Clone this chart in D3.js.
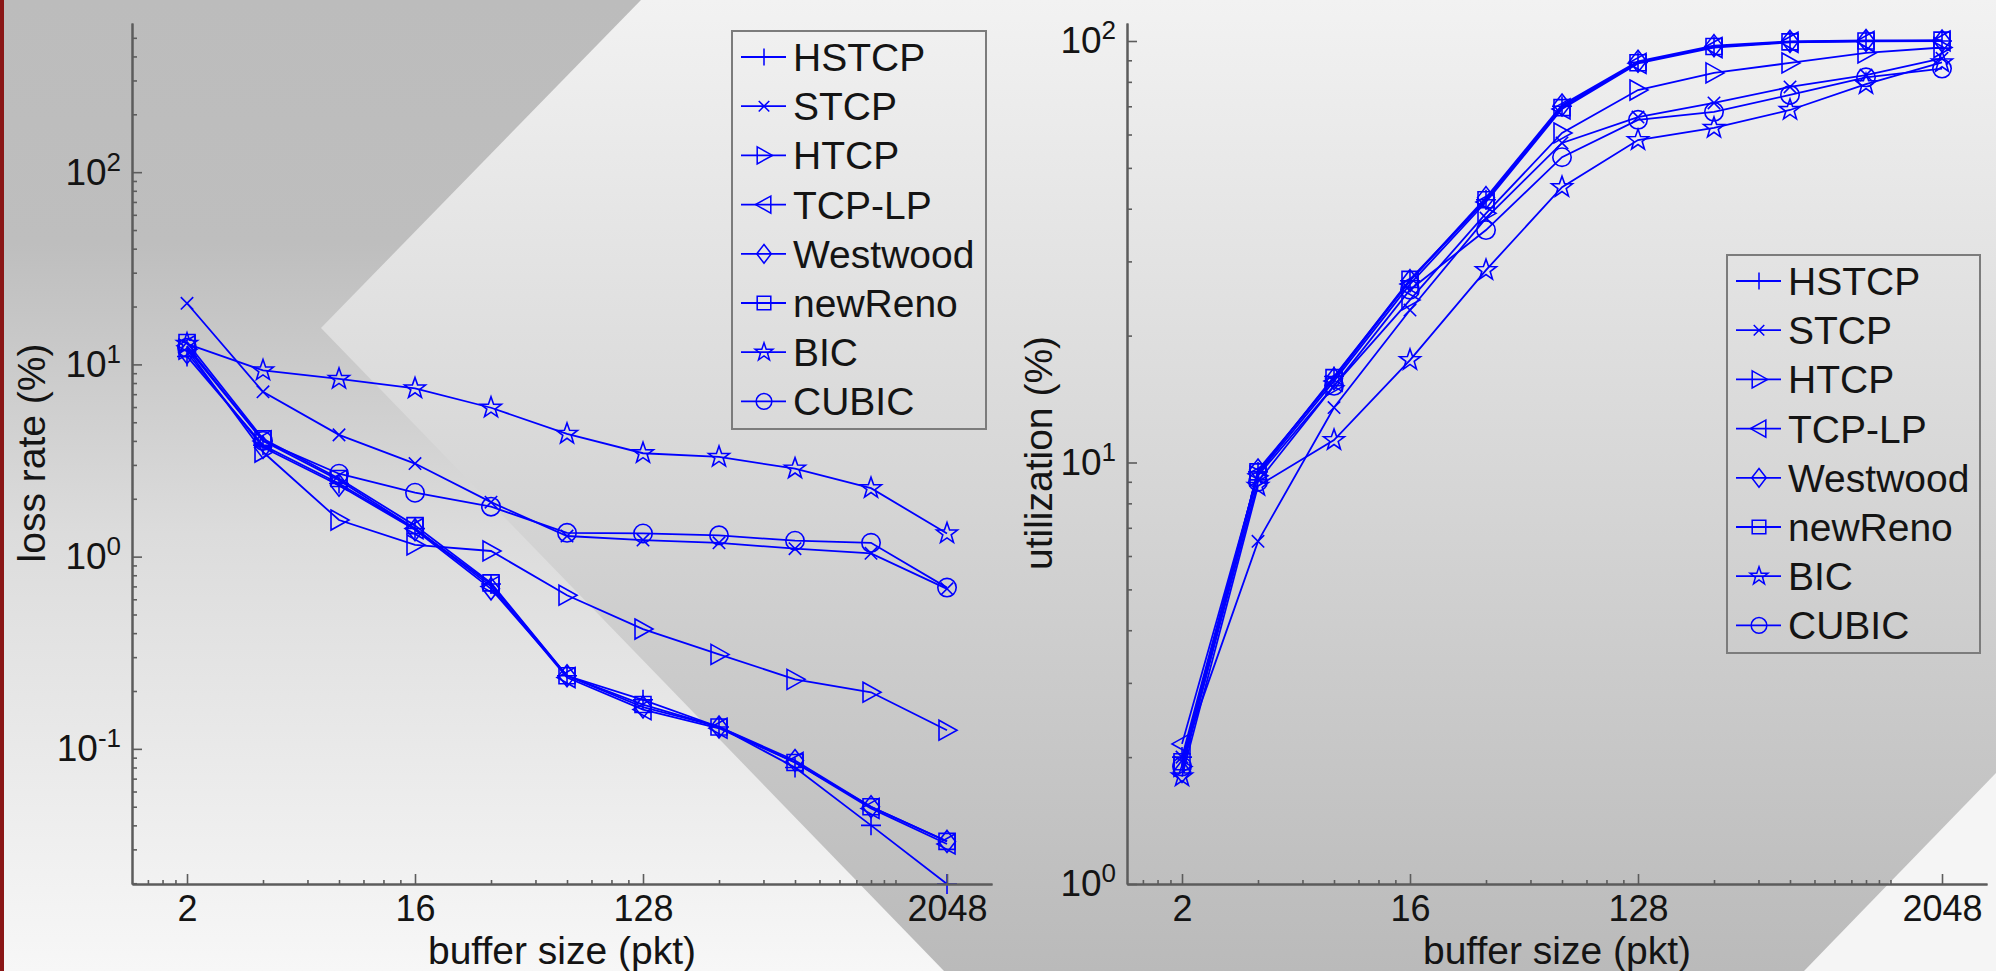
<!DOCTYPE html>
<html>
<head>
<meta charset="utf-8">
<script src="https://cdn.jsdelivr.net/npm/d3@7"></script>
<style>
  body { margin: 0; overflow: hidden; background: #ddd; }
  svg { display: block; }
  text { font-family: "Liberation Sans", Arial, sans-serif; fill: #141414; }
</style>
</head>
<body>
<svg id="chart" width="1996" height="971"></svg>
<script>
// buffer sizes (pkt) on the x axis
const bufferSizes = [2, 4, 8, 16, 32, 64, 128, 256, 512, 1024, 2048];
const protocols = ["HSTCP", "STCP", "HTCP", "TCP-LP", "Westwood", "newReno", "BIC", "CUBIC"];
const markerKinds = ["plus", "x", "triRight", "triLeft", "diamond", "square", "star", "circle"];

// loss rate (%), left panel
const lossHSTCP    = [11.0, 3.8, 2.4, 1.40, 0.72, 0.240, 0.180, 0.130, 0.080, 0.040, 0.0198];
const lossSTCP     = [20.8, 7.2, 4.3, 3.05, 1.92, 1.28, 1.22, 1.18, 1.10, 1.04, 0.68];
const lossHTCP     = [12.0, 3.5, 1.55, 1.15, 1.07, 0.63, 0.42, 0.31, 0.23, 0.197, 0.125];
const lossTCPLP    = [12.5, 4.0, 2.5, 1.40, 0.70, 0.235, 0.160, 0.128, 0.085, 0.049, 0.032];
const lossWestwood = [11.5, 3.7, 2.35, 1.38, 0.68, 0.240, 0.165, 0.130, 0.087, 0.050, 0.033];
const lossNewReno  = [13.0, 4.1, 2.55, 1.45, 0.73, 0.240, 0.170, 0.130, 0.085, 0.050, 0.033];
const lossBIC      = [12.8, 9.3, 8.4, 7.5, 5.95, 4.35, 3.45, 3.30, 2.87, 2.27, 1.32];
const lossCUBIC    = [12.2, 4.0, 2.7, 2.15, 1.82, 1.33, 1.32, 1.29, 1.21, 1.18, 0.69];

// utilization (%), right panel
const utilHSTCP    = [2.0, 9.5, 16.0, 27.0, 42.0, 70.0, 89.0, 97.0, 99.5, 100, 100];
const utilSTCP     = [2.0, 6.5, 13.5, 23.0, 38.0, 57.3, 66.0, 71.3, 77.8, 83.0, 91.0];
const utilHTCP     = [1.9, 9.3, 15.2, 24.3, 39.0, 60.5, 76.5, 84.0, 88.7, 93.7, 96.5];
const utilTCPLP    = [2.15, 9.4, 15.6, 26.5, 41.5, 69.0, 88.5, 96.5, 99.3, 99.8, 100];
const utilWestwood = [1.85, 9.6, 15.8, 27.0, 42.5, 70.5, 89.5, 97.5, 99.8, 100.3, 100];
const utilNewReno  = [1.95, 9.5, 15.9, 27.2, 42.0, 69.5, 88.8, 97.0, 99.5, 100, 100.5];
const utilBIC      = [1.8, 8.8, 11.3, 17.5, 28.6, 45.0, 58.2, 62.2, 68.6, 79.0, 89.0];
const utilCUBIC    = [1.9, 9.0, 15.2, 25.7, 35.6, 53.0, 65.0, 67.9, 74.5, 82.0, 86.0];

// ticks
const xMajorTicks = [2, 16, 128, 2048];
const xMinorTicks = [1.4, 1.6, 1.8, 4, 6, 8, 10, 12, 14, 32, 48, 64, 80, 96, 112,
                     256, 384, 512, 640, 768, 896, 1024, 1152, 1280];
const lossMajorTicks = [0.1, 1, 10, 100];
const utilMajorTicks = [1, 10, 100];

const W = 1996, H = 971;
const blue = "#0000ff";
const svg = d3.select("#chart");
const defs = svg.append("defs");

function gradient(id, stops) {
    const g = defs.append("linearGradient").attr("id", id)
        .attr("gradientUnits", "userSpaceOnUse")
        .attr("x1", 0).attr("y1", 0).attr("x2", 0).attr("y2", H);
    stops.forEach(s => g.append("stop").attr("offset", s[0]).attr("stop-color", s[1]));
}
gradient("outerGrad", [[0, "#bcbcbc"], [0.25, "#bebebe"], [0.55, "#dcdcdc"], [1, "#f7f7f7"]]);
gradient("chevGrad", [[0, "#f2f2f2"], [1, "#bababa"]]);

// slide background
const bg = svg.append("g");
bg.append("rect").attr("width", W).attr("height", H).attr("fill", "url(#outerGrad)");
bg.append("polygon").attr("points", "641,0 1996,0 1996,971 944,971 321,328").attr("fill", "url(#chevGrad)");
bg.append("polygon").attr("points", "1804,971 1996,773 1996,971").attr("fill", "#f5f5f5");
bg.append("rect").attr("width", 4).attr("height", H).attr("fill", "#8a1616");

// matlab-like markers
const markerTypes = {
    plus: { draw(c, s) { const r = Math.sqrt(s) / 2;
        c.moveTo(-r, 0); c.lineTo(r, 0); c.moveTo(0, -r); c.lineTo(0, r); } },
    x: { draw(c, s) { const r = Math.sqrt(s) / 2 * 0.62;
        c.moveTo(-r, -r); c.lineTo(r, r); c.moveTo(-r, r); c.lineTo(r, -r); } },
    triRight: { draw(c, s) { const r = Math.sqrt(s) / 2;
        c.moveTo(-0.8 * r, -r); c.lineTo(r, 0); c.lineTo(-0.8 * r, r); c.closePath(); } },
    triLeft: { draw(c, s) { const r = Math.sqrt(s) / 2;
        c.moveTo(0.8 * r, -r); c.lineTo(-r, 0); c.lineTo(0.8 * r, r); c.closePath(); } },
    diamond: { draw(c, s) { const r = Math.sqrt(s) / 2;
        c.moveTo(0, -1.1 * r); c.lineTo(0.85 * r, 0); c.lineTo(0, 1.1 * r); c.lineTo(-0.85 * r, 0); c.closePath(); } },
    square: { draw(c, s) { const r = Math.sqrt(s) / 2 * 0.8;
        c.rect(-r, -r, 2 * r, 2 * r); } },
    star: { draw(c, s) { const R = Math.sqrt(s) / 2 * 1.1, q = R * 0.4;
        for (let i = 0; i < 10; i++) {
            const a = -Math.PI / 2 + i * Math.PI / 5, rr = i % 2 ? q : R;
            if (i === 0) c.moveTo(rr * Math.cos(a), rr * Math.sin(a));
            else c.lineTo(rr * Math.cos(a), rr * Math.sin(a));
        }
        c.closePath(); } },
    circle: { draw(c, s) { const r = Math.sqrt(s) / 2 * 0.92;
        c.moveTo(r, 0); c.arc(0, 0, r, 0, 2 * Math.PI); } }
};
const markerPath = kind => d3.symbol().type(markerTypes[kind]).size(400)();

function drawPanel(cfg) {
    const x = d3.scaleLog().base(2).domain([1.211, 3087]).range(cfg.xRange);
    const y = d3.scaleLog().domain(cfg.yDomain).range([884, 23]);
    const g = svg.append("g");

    const line = d3.line().x((d, i) => x(bufferSizes[i])).y(d => y(d));
    const series = g.selectAll("g.series").data(cfg.series).join("g").attr("class", "series");
    series.append("path").attr("d", d => line(d.values))
        .attr("fill", "none").attr("stroke", blue).attr("stroke-width", 1.8);
    series.selectAll("path.mk").data(d => d.values.map((v, i) => ({ v, i, kind: d.kind })))
        .join("path").attr("class", "mk")
        .attr("transform", d => `translate(${x(bufferSizes[d.i])},${y(d.v)})`)
        .attr("d", d => markerPath(d.kind))
        .attr("fill", "none").attr("stroke", blue).attr("stroke-width", 1.6);

    const axisColor = "#5c5c5c";
    // x axis
    g.append("g").attr("transform", "translate(0,884)")
        .call(d3.axisBottom(x).tickValues(xMinorTicks).tickSize(-4).tickSizeOuter(0).tickFormat(""));
    const xa = g.append("g").attr("transform", "translate(0,884)")
        .call(d3.axisBottom(x).tickValues(xMajorTicks).tickSize(-10).tickSizeOuter(0)
            .tickPadding(11).tickFormat(d3.format("d")));
    xa.selectAll("text").attr("font-size", 36).attr("fill", "#141414");

    // y axis
    const yMinor = [];
    d3.range(Math.floor(Math.log10(cfg.yDomain[0])), Math.ceil(Math.log10(cfg.yDomain[1]))).forEach(e => {
        for (let k = 2; k <= 9; k++) {
            const v = k * Math.pow(10, e);
            if (v >= cfg.yDomain[0] && v <= cfg.yDomain[1]) yMinor.push(v);
        }
    });
    g.append("g").attr("transform", `translate(${cfg.xRange[0]},0)`)
        .call(d3.axisLeft(y).tickValues(yMinor).tickSize(-5).tickSizeOuter(0).tickFormat(""));
    const ya = g.append("g").attr("transform", `translate(${cfg.xRange[0]},0)`)
        .call(d3.axisLeft(y).tickValues(cfg.yTicks).tickSize(-10).tickSizeOuter(0).tickPadding(11));
    ya.selectAll("text").text(null).attr("font-size", 37).attr("fill", "#141414")
        .call(t => {
            t.append("tspan").text("10");
            t.append("tspan").attr("dy", -14).attr("font-size", 26)
                .text(d => String(Math.round(Math.log10(d))));
        });

    g.selectAll(".domain").attr("stroke", axisColor).attr("stroke-width", 2);
    g.selectAll(".tick line").attr("stroke", axisColor).attr("stroke-width", 1.6);

    // titles
    g.append("text").attr("x", (cfg.xRange[0] + cfg.xRange[1]) / 2).attr("y", 964)
        .attr("text-anchor", "middle").attr("font-size", 39).text("buffer size (pkt)");
    g.append("text").attr("transform", `translate(${cfg.yLabelX},453) rotate(-90)`)
        .attr("text-anchor", "middle").attr("font-size", 39).text(cfg.yLabel);

    // legend
    const lb = cfg.legend;
    const leg = g.append("g").attr("transform", `translate(${lb.x},${lb.y})`);
    leg.append("rect").attr("width", lb.w).attr("height", 398)
        .attr("fill", "none").attr("stroke", "#7c7c7c").attr("stroke-width", 2);
    const item = leg.selectAll("g.item").data(cfg.series).join("g").attr("class", "item")
        .attr("transform", (d, i) => `translate(0,${26 + i * 49.2})`);
    item.append("line").attr("x1", 9).attr("x2", 54)
        .attr("stroke", blue).attr("stroke-width", 1.8);
    item.append("path").attr("transform", "translate(32,0) scale(0.85)")
        .attr("d", d => markerPath(d.kind))
        .attr("fill", "none").attr("stroke", blue).attr("stroke-width", 1.8);
    item.append("text").attr("x", 61).attr("y", 14).attr("font-size", 39).text(d => d.name);
}

const lossSeries = [lossHSTCP, lossSTCP, lossHTCP, lossTCPLP, lossWestwood, lossNewReno, lossBIC, lossCUBIC]
    .map((values, i) => ({ name: protocols[i], kind: markerKinds[i], values }));
const utilSeries = [utilHSTCP, utilSTCP, utilHTCP, utilTCPLP, utilWestwood, utilNewReno, utilBIC, utilCUBIC]
    .map((values, i) => ({ name: protocols[i], kind: markerKinds[i], values }));

drawPanel({
    xRange: [132, 992],
    yDomain: [Math.pow(10, -1.703), Math.pow(10, 2.776)],
    yTicks: lossMajorTicks,
    series: lossSeries,
    yLabel: "loss rate (%)",
    yLabelX: 45,
    legend: { x: 732, y: 31, w: 254 }
});
drawPanel({
    xRange: [1127, 1987],
    yDomain: [1, Math.pow(10, 2.0427)],
    yTicks: utilMajorTicks,
    series: utilSeries,
    yLabel: "utilization (%)",
    yLabelX: 1052,
    legend: { x: 1727, y: 255, w: 253 }
});
</script>
</body>
</html>
